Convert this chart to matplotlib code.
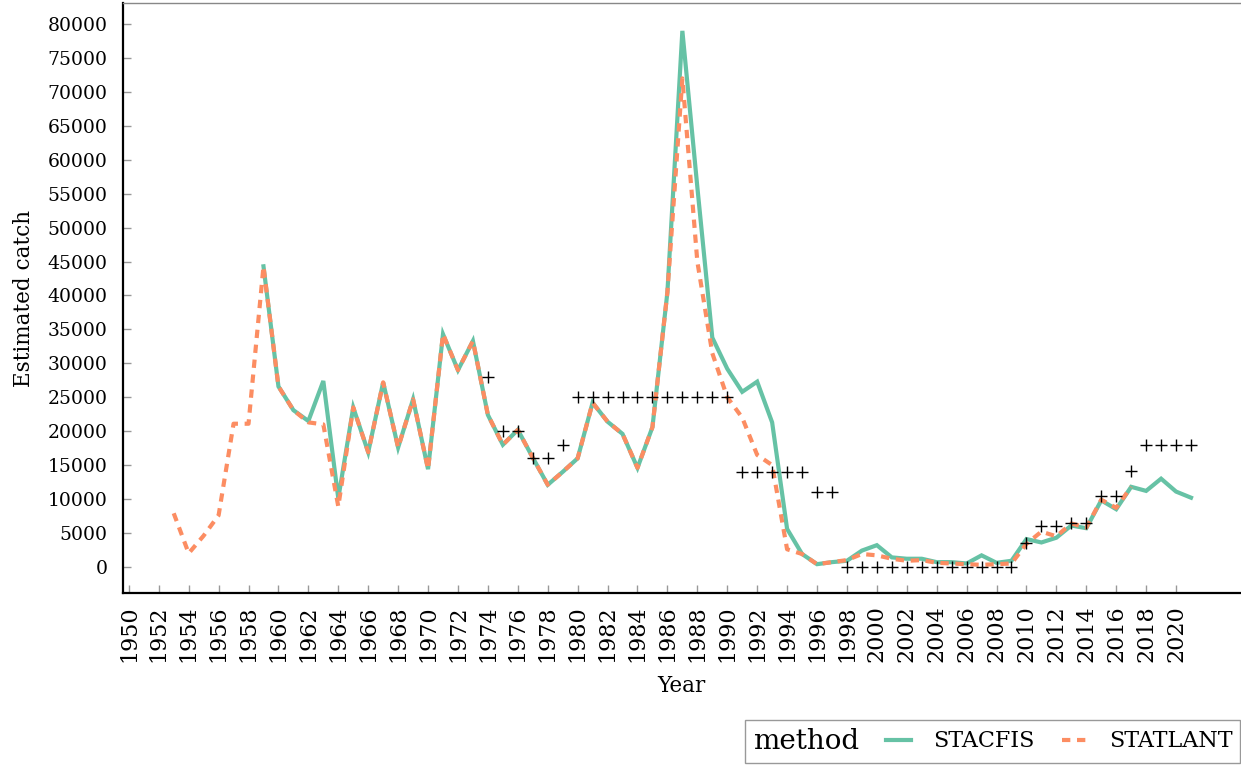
import matplotlib.pyplot as plt
from matplotlib.lines import Line2D

# STACFIS estimates, 1959-2021
stacfis_years = list(range(1959, 2022))
stacfis = [44300, 26600, 23100, 21500, 27400, 10100, 23500, 16900, 27200, 17600,
           24700, 14400, 34300, 29000, 33300, 22400, 18000, 20200, 16100, 12100,
           14000, 16000, 24200, 21400, 19600, 14600, 20600, 40500, 79000, 56000,
           33800, 29200, 25800, 27300, 21300, 5600, 1900, 400, 700, 900,
           2400, 3200, 1400, 1200, 1200, 700, 700, 500, 1700, 600,
           900, 4100, 3600, 4300, 6100, 5700, 9800, 8500, 11800, 11200,
           13000, 11100, 10200]

# STATLANT estimates, 1953-2017
statlant_years = list(range(1953, 2018))
statlant = [7900, 2000, 4600, 7600, 21100, 21100, 44300, 26600, 23100, 21300,
            21000, 8900, 23500, 16900, 27200, 17600, 24700, 14400, 34300, 29000,
            33300, 22400, 18000, 20200, 16100, 12100, 14000, 16000, 24200, 21400,
            19600, 14600, 20600, 40500, 72000, 45000, 31500, 25000, 22000, 16500,
            15000, 2600, 1900, 400, 700, 1000, 1900, 1700, 1200, 900,
            1000, 600, 500, 400, 300, 400, 500, 3400, 5200, 4500,
            6400, 5800, 9900, 8700, 11800]

# reference values drawn as crosses, 1974-2021
ref_years = list(range(1974, 2022))
ref_vals = ([28000, 20000, 20000, 16000, 16000, 18000] + [25000] * 11 + [14000] * 5
            + [11000] * 2 + [0] * 12 + [3500, 6000, 6000, 6500, 6500, 10400, 10400, 14200]
            + [18000] * 4)

year_ticks = list(range(1950, 2021, 2))
catch_ticks = list(range(0, 80001, 5000))

teal = '#66c2a5'
salmon = '#fc8d62'

plt.rcParams['font.family'] = ['DejaVu Serif']

fig = plt.figure(figsize=(12.41, 7.65), dpi=100)
ax = fig.add_axes([0.099, 0.225, 0.9005, 0.771])

ax.plot(stacfis_years, stacfis, color=teal, lw=3, solid_joinstyle='miter', zorder=2)
ax.plot(statlant_years, statlant, color=salmon, lw=3, linestyle=(0, (2.0, 1.6)), zorder=3)
ax.plot(ref_years, ref_vals, linestyle='none', marker='+', color='black',
        markersize=9, markeredgewidth=1.0, zorder=4)

ax.set_xlim(1949.6, 2024.3)
ax.set_ylim(-3830, 83100)
ax.set_xticks(year_ticks)
ax.set_xticklabels([str(y) for y in year_ticks], rotation=90)
ax.set_yticks(catch_ticks)
ax.tick_params(direction='in', length=6, width=1, color='#999999')
ax.tick_params(axis='y', pad=11, labelsize=13.5)
ax.tick_params(axis='x', pad=9, labelsize=16)
ax.set_xlabel('Year', fontsize=15.5, labelpad=9)
ax.set_ylabel('Estimated catch', fontsize=15.5, labelpad=9)

for side in ['left', 'bottom']:
    ax.spines[side].set_linewidth(1.6)
    ax.spines[side].set_color('black')
ax.spines['top'].set_color('#888888')
ax.spines['top'].set_linewidth(1.0)
ax.spines['right'].set_visible(False)

handles = [Line2D([], [], color=teal, lw=3),
           Line2D([], [], color=salmon, lw=3, linestyle=(0, (2.0, 1.6)))]
leg = fig.legend(handles=handles, labels=['STACFIS', 'STATLANT'], title='method',
                 ncol=2, loc='lower right', bbox_to_anchor=(0.9995, 0.003),
                 frameon=True, fancybox=False, edgecolor='#999999', framealpha=1,
                 fontsize=16, title_fontsize=20, handlelength=1.1, handletextpad=1.0,
                 columnspacing=1.4, borderpad=0.35, borderaxespad=0)
# put the title to the left of the entries
box = leg.get_children()[0]
title_box = box.get_children()[0]
entries = box.get_children()[1]
box._children = [entries]
entries._children = [title_box] + entries.get_children()
entries.align = 'center'
entries.sep = 20

fig.savefig('out.png', dpi=100)
